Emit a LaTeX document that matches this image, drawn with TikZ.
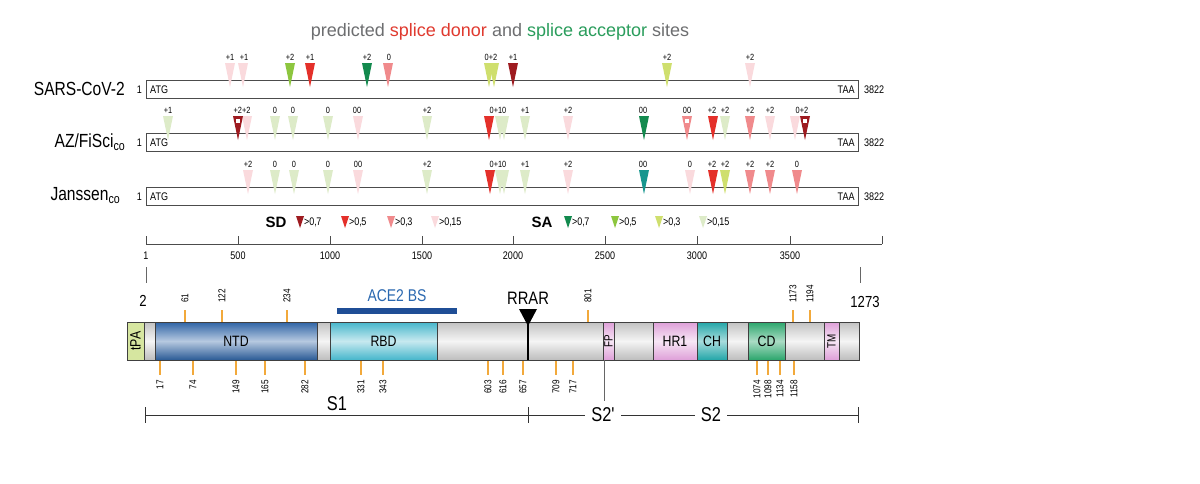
\documentclass[tikz,border=0pt]{standalone}
\usepackage{fontspec}
\setmainfont{Liberation Sans}
\newfontfamily\narrowfont[FakeStretch=0.82]{Liberation Sans}
\usepackage{tikz}
\usetikzlibrary{shapes,arrows.meta,positioning}

\definecolor{sdA}{HTML}{9E1B20}
\definecolor{sdB}{HTML}{E4302A}
\definecolor{sdC}{HTML}{F08A8C}
\definecolor{sdD}{HTML}{FADADD}
\definecolor{saA}{HTML}{138A4E}
\definecolor{saB}{HTML}{8DC63F}
\definecolor{saC}{HTML}{CFDF6E}
\definecolor{saD}{HTML}{DDEBC8}
\definecolor{saT}{HTML}{16968E}
\definecolor{titlegray}{HTML}{6D6E70}
\definecolor{titlered}{HTML}{E03A2F}
\definecolor{titlegreen}{HTML}{2A9D5C}
\definecolor{aceblue}{HTML}{1F4E96}
\definecolor{acetext}{HTML}{2A68B0}
\definecolor{tickorange}{HTML}{F2A93B}
\definecolor{hrpink}{HTML}{DE9FD8}
\definecolor{ntdblue}{HTML}{2F64A6}
\definecolor{rbdcyan}{HTML}{45B6CB}
\definecolor{chteal}{HTML}{22A6A8}
\definecolor{cdgreen}{HTML}{2BA66C}
\definecolor{tpagreen}{HTML}{D6E6A0}

\begin{document}
\begin{tikzpicture}[x=1pt,y=-1pt,
    every node/.style={inner sep=0pt},
    tiny/.style={font=\narrowfont\fontsize{9}{9}\selectfont},
    small/.style={font=\narrowfont\fontsize{11}{11}\selectfont},
    rowname/.style={font=\narrowfont\fontsize{19}{19}\selectfont, anchor=east},
    seqbox/.style={draw=black!70, line width=0.8pt, minimum width=712pt, minimum height=18pt, anchor=north west},
    dom/.style={draw=black!75, line width=0.6pt, minimum height=38pt, font=\narrowfont\fontsize{15}{15}\selectfont},
    pinkdom/.style={dom, top color=hrpink, bottom color=hrpink, middle color=hrpink!25},
    resnum/.style={font=\narrowfont\fontsize{10}{10}\selectfont, rotate=90},
    restick/.style={draw=tickorange, line width=1.3pt},
    seg/.style={font=\narrowfont\fontsize{20}{20}\selectfont}
  ]
  \fill[white] (0,0) rectangle (1200,483);
  \useasboundingbox (0,0) rectangle (1200,483);

  % title
  \node[font=\fontsize{18}{20}\selectfont] (title) at (500,32)
    {\color{titlegray}predicted \color{titlered}splice donor \color{titlegray}and \color{titlegreen}splice acceptor \color{titlegray}sites};

  % sequences
  \node[rowname] (sarsname) at (125,89) {SARS-CoV-2};
  \node[rowname] (azname) at (125,142) {AZ/FiSci{\fontsize{13}{13}\selectfont\raisebox{-3pt}{co}}};
  \node[rowname] (janname) at (120,196) {Janssen{\fontsize{13}{13}\selectfont\raisebox{-3pt}{co}}};

  \node[seqbox] (sars) at (146,80) {};
  \node[seqbox] (az) at (146,133) {};
  \node[seqbox] (jan) at (146,187) {};

  \foreach \r in {sars,az,jan}{
    \node[small, left=4pt of \r.west] (\r one) {1};
    \node[small, right=4pt of \r.west] (\r atg) {ATG};
    \node[small, left=4pt of \r.east] (\r taa) {TAA};
    \node[small, right=5pt of \r.east] (\r end) {3822};
  }

  % SARS-CoV-2 sites
  \foreach \x/\c in {230/sdD,243/sdD,290/saB,310/sdB,367/saA,388/sdC,489/saC,494/saC,513/sdA,667/saC,750/sdD}
    \fill[\c] ({\x-5},63) -- ({\x+5},63) -- (\x,87) -- cycle;
  \foreach \x/\t in {230/+1,244/+1,290/+2,310/+1,367/+2,389/0,491/0+2,513/+1,667/+2,750/+2}
    \node[tiny] (s\x) at (\x,57) {\t};

  % AZ sites
  \foreach \x/\c in {168/saD,247/sdD,238/sdA,275/saD,293/saD,328/saD,358/sdD,427/saD,500/saD,504/saD,489/sdB,525/saD,568/sdD,644/saA,687/sdC,725/saD,713/sdB,750/sdC,770/sdD,795/sdD,805/sdA}
    \fill[\c] ({\x-5},116) -- ({\x+5},116) -- (\x,140) -- cycle;
  \foreach \x in {238,687,805}
    \fill[white] ({\x-2},119) rectangle ({\x+2},123);
  \foreach \x/\t in {168/+1,242/+2+2,275/0,293/0,328/0,357/00,427/+2,498/0+10,525/+1,568/+2,643/00,687/00,712/+2,725/+2,750/+2,770/+2,802/0+2}
    \node[tiny] (a\x) at (\x,110) {\t};

  % Janssen sites
  \foreach \x/\c in {248/sdD,275/saD,294/saD,328/saD,358/sdD,427/saD,500/saD,504/saD,490/sdB,525/saD,568/sdD,644/saT,690/sdD,713/sdB,725/saC,750/sdC,770/sdC,797/sdC}
    \fill[\c] ({\x-5},170) -- ({\x+5},170) -- (\x,194) -- cycle;
  \foreach \x/\t in {248/+2,275/0,294/0,328/0,358/00,427/+2,498/0+10,525/+1,568/+2,643/00,690/0,712/+2,725/+2,750/+2,770/+2,797/0}
    \node[tiny] (j\x) at (\x,164) {\t};

  % legend
  \node[font=\bfseries\fontsize{15}{15}\selectfont] (sd) at (276,222) {SD};
  \foreach \x/\c/\t in {300/sdA/0\rlap{,}\,7,345/sdB/0\rlap{,}\,5,391/sdC/0\rlap{,}\,3,435/sdD/0\rlap{,}\,15}{
    \fill[\c] ({\x-4},216) -- ({\x+4},216) -- (\x,228) -- cycle;
    \node[small, anchor=west] (k\x) at ({\x+4},222) {>\t};
  }
  \node[font=\bfseries\fontsize{15}{15}\selectfont] (sa) at (542,222) {SA};
  \foreach \x/\c/\t in {568/saA/0\rlap{,}\,7,615/saB/0\rlap{,}\,5,659/saC/0\rlap{,}\,3,703/saD/0\rlap{,}\,15}{
    \fill[\c] ({\x-4},216) -- ({\x+4},216) -- (\x,228) -- cycle;
    \node[small, anchor=west] (k\x) at ({\x+4},222) {>\t};
  }

  % nucleotide scale
  \draw[black!70, line width=0.7pt] (146,244) -- (882,244);
  \foreach \x/\t in {146/1,238/500,330/1000,422/1500,513/2000,605/2500,697/3000,790/3500}{
    \draw[black!70, line width=0.7pt] (\x,236) -- (\x,244);
    \node[small] (n\t) at (\x,256) {\t};
  }
  \draw[black!70, line width=0.7pt] (882,236) -- (882,244);

  % protein
  \node[font=\narrowfont\fontsize{16}{16}\selectfont] (p2) at (143,301) {2};
  \node[font=\narrowfont\fontsize{16}{16}\selectfont] (p1273) at (865,302) {1273};
  \coordinate (c2) at (146,283);
  \coordinate (c1273) at (860,283);
  \draw[black!60] (n1.south |- 0,267) -- (c2);
  \draw[black!60] (860,267) -- (c1273);

  \node[dom, minimum width=732pt, top color=black!24, bottom color=black!26, middle color=black!4] (bar) at (493,341) {};
  \node[dom, minimum width=17pt, fill=tpagreen] (tpa) at (135.5,341) {\rotatebox{90}{tPA}};
  \node[dom, minimum width=162pt, top color=ntdblue, bottom color=ntdblue!90!black, middle color=ntdblue!35] (ntd) at (236,341) {NTD};
  \node[dom, minimum width=107pt, top color=rbdcyan, bottom color=rbdcyan, middle color=rbdcyan!30] (rbd) at (383.5,341) {RBD};
  \node[pinkdom, minimum width=11pt] (fp) at (608.5,341) {\rotatebox{90}{\fontsize{12}{12}\selectfont FP}};
  \node[pinkdom, minimum width=44pt] (hr1) at (675,341) {HR1};
  \node[dom, minimum width=30pt, top color=chteal, bottom color=chteal, middle color=chteal!40] (ch) at (712,341) {CH};
  \node[dom, minimum width=37pt, top color=cdgreen, bottom color=cdgreen, middle color=cdgreen!40] (cd) at (766.5,341) {CD};
  \node[pinkdom, minimum width=15pt] (tm) at (831.5,341) {\rotatebox{90}{\fontsize{12}{12}\selectfont TM}};

  \node[fill=aceblue, minimum width=120pt, minimum height=6pt] (acebar) at (397,311) {};
  \node[font=\narrowfont\fontsize{17}{17}\selectfont, text=acetext, above=6pt of acebar] (ace) {ACE2 BS};

  \fill[black] (519,309) -- (537,309) -- (528,326) -- cycle;
  \draw[black, line width=1.2pt] (528,322) -- (528,360);
  \node[font=\narrowfont\fontsize{18}{18}\selectfont] (rrar) at (528,298) {RRAR};

  % residues
  \foreach \x/\t in {185/61,222/122,287/234,588/801,793/1173,810/1194}{
    \draw[restick] (\x,310) -- (\x,322);
    \node[resnum, anchor=west] (t\t) at (\x,303) {\t};
  }
  \foreach \x/\t in {160/17,193/74,236/149,265/165,305/282,361/331,383/343,488/603,503/616,523/657,556/709,573/717,757/1074,768/1098,780/1134,794/1158}{
    \draw[restick] (\x,361) -- (\x,375);
    \node[resnum, anchor=east] (b\t) at (\x,380) {\t};
  }

  % cleavage products
  \draw[black!60] (604,360) -- (604,401);
  \draw[black!80, line width=0.9pt] (145,415) -- (858,415);
  \foreach \x in {145,528,858}
    \draw[black!80, line width=0.9pt] (\x,407) -- (\x,423);
  \node[seg] (s1) at (337,404) {S1};
  \node[seg, fill=white, inner xsep=6pt] (s2p) at (603,415) {S2'};
  \node[seg, fill=white, inner xsep=6pt] (s2) at (711,415) {S2};
\end{tikzpicture}
\end{document}
